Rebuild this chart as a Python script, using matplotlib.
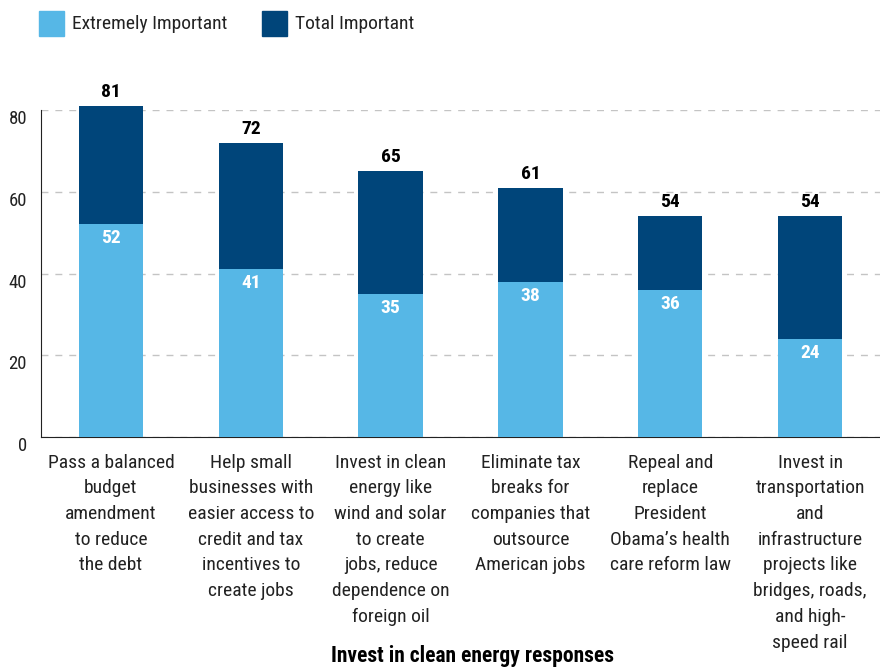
import matplotlib
matplotlib.use("Agg")
import matplotlib.pyplot as plt
from matplotlib.patches import Rectangle
from matplotlib import font_manager as fm

available = {f.name for f in fm.fontManager.ttflist}
candidates = ['Roboto Condensed', 'Archivo Narrow', 'Liberation Sans Narrow',
              'Fira Sans Condensed', 'Roboto']
font = next((c for c in candidates if c in available), 'DejaVu Sans')
plt.rcParams['font.family'] = [font, 'DejaVu Sans']

categories = [
    "Pass a balanced\nbudget\namendment\nto reduce\nthe debt",
    "Help small\nbusinesses with\neasier access to\ncredit and tax\nincentives to\ncreate jobs",
    "Invest in clean\nenergy like\nwind and solar\nto create\njobs, reduce\ndependence on\nforeign oil",
    "Eliminate tax\nbreaks for\ncompanies that\noutsource\nAmerican jobs",
    "Repeal and\nreplace\nPresident\nObama\u2019s health\ncare reform law",
    "Invest in\ntransportation\nand\ninfrastructure\nprojects like\nbridges, roads,\nand high-\nspeed rail",
]
extremely = [52, 41, 35, 38, 36, 24]
total = [81, 72, 65, 61, 54, 54]
yticks = [0, 20, 40, 60, 80]
series_names = ['Extremely Important', 'Total Important']

light = "#56B7E6"
dark = "#00457A"
txt = "#222222"
W, H = 880, 667

fig = plt.figure(figsize=(8.8, 6.67), dpi=100)
ax = fig.add_axes([41/W, 1-437/H, 1-41/W, (437-110)/H])

x = list(range(len(categories)))
w = 0.46
ax.bar(x, total, width=w, color=dark, clip_on=False, zorder=2)
ax.bar(x, extremely, width=w, color=light, clip_on=False, zorder=3)

for xi, t, e in zip(x, total, extremely):
    ax.annotate(str(t), (xi, t), xytext=(0, 3.5), textcoords='offset points',
                ha='center', va='bottom', fontsize=14, fontweight='bold',
                color='black', annotation_clip=False)
    ax.annotate(str(e), (xi, e), xytext=(0, -3.5), textcoords='offset points',
                ha='center', va='top', fontsize=14, fontweight='bold',
                color='white', zorder=4, annotation_clip=False)

ax.set_xlim(-0.5, len(categories) - 0.5)
ax.set_ylim(0, 80)
ax.set_yticks(yticks)
ax.set_yticklabels([str(v) for v in yticks], fontsize=13.5, color=txt, va='top')
ax.tick_params(axis='y', length=0, pad=10)
ax.set_xticks(x)
ax.set_xticklabels(categories, fontsize=14, color=txt, linespacing=1.55,
                   va='top')
ax.tick_params(axis='x', length=0, pad=12)
for s in ['top', 'right']:
    ax.spines[s].set_visible(False)
ax.spines['left'].set_color(txt)
ax.spines['bottom'].set_color(txt)
ax.yaxis.grid(True, linestyle=(0, (5, 5)), color='#C4C4C4', linewidth=1, zorder=0)
ax.set_axisbelow(True)

# legend drawn in figure pixels
for (sx, tx), name, col in zip([(39, 72), (262, 295)], series_names, [light, dark]):
    fig.patches.append(Rectangle((sx/W, 1-36/H), 25/W, 25/H, color=col,
                                 transform=fig.transFigure, figure=fig))
    fig.text(tx/W, 1-24/H, name, ha='left', va='center', fontsize=14,
             color=txt)

fig.text(472/W, 1-656/H, "Invest in clean energy responses", ha='center',
         va='center', fontsize=15.5, fontweight='bold')

fig.savefig("out.png", dpi=100)
